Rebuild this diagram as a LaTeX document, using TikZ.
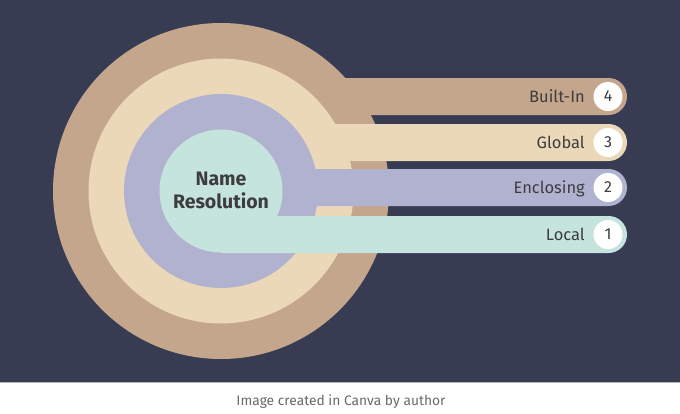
\documentclass[tikz,border=0pt]{standalone}
\usepackage{fontspec}
\setmainfont{Fira Sans}
\definecolor{navy}{HTML}{383C53}
\definecolor{tan}{HTML}{C4A68C}
\definecolor{cream}{HTML}{EBD8B8}
\definecolor{lav}{HTML}{B1B2D0}
\definecolor{mint}{HTML}{C5E4DD}
\definecolor{ink}{HTML}{3D3D3D}
\definecolor{capgray}{HTML}{6A6A6A}
\tikzset{
  lbl/.style={anchor=base east, inner sep=0pt, text=ink, font=\fontsize{16.5}{19}\selectfont},
  num/.style={circle, fill=white, minimum size=29pt, inner sep=0pt, text=ink, font=\fontsize{16}{19}\selectfont},
}
\begin{document}
\begin{tikzpicture}[x=1pt,y=-1pt]
\useasboundingbox (0,0) rectangle (680,413);
\fill[white] (0,0) rectangle (680,413);
\fill[navy] (0,0) rectangle (680,382);
\draw[gray!60, line width=0.8pt] (0,382.4) -- (680,382.4);
% rings and bars (outer to inner)
\def\cx{221}\def\cy{191}
\fill[tan] (\cx,\cy) circle[radius=168pt];
\fill[tan] (\cx,78) rectangle (608.5,115) (608.5,96.5) circle[radius=18.5pt];
\fill[cream] (\cx,\cy) circle[radius=132.5pt];
\fill[cream] (\cx,124) rectangle (608.5,161) (608.5,142.5) circle[radius=18.5pt];
\fill[lav] (\cx,\cy) circle[radius=97pt];
\fill[lav] (\cx,169) rectangle (608.5,206) (608.5,187.5) circle[radius=18.5pt];
\fill[mint] (\cx,\cy) circle[radius=61.5pt];
\fill[mint] (\cx,216) rectangle (608.5,253) (608.5,234.5) circle[radius=18.5pt];
% labels
\node[lbl] (b4) at (585,102.5) {Built-In};
\node[lbl] (b3) at (585,148.5) {Global};
\node[lbl] (b2) at (585,193.5) {Enclosing};
\node[lbl] (b1) at (585,240.5) {Local};
\node[num] (n4) at (608,96.5) {4};
\node[num] (n3) at (608,142.5) {3};
\node[num] (n2) at (608,187.5) {2};
\node[num] (n1) at (608,234.5) {1};
\node[align=center, text=ink, font=\fontsize{19.5}{23}\bfseries\selectfont] (title) at (\cx,190) {Name\\Resolution};
\node[text=capgray, font=\fontsize{13.8}{16}\selectfont] (cap) at (341,402) {Image created in Canva by author};
\end{tikzpicture}
\end{document}
